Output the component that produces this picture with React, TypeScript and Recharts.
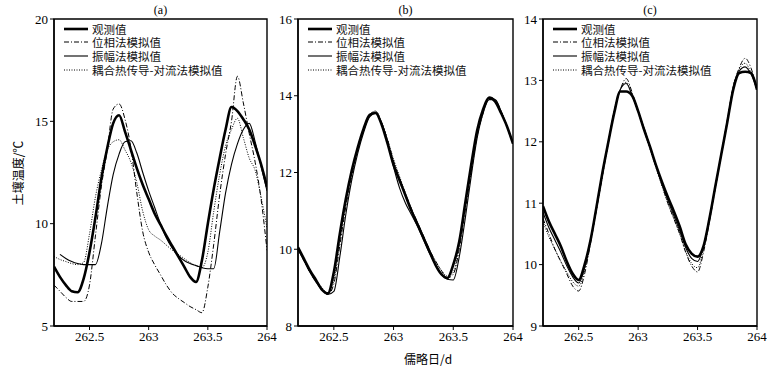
import { LineChart, Line, XAxis, YAxis, ReferenceArea } from "recharts";

// 儒略日 (day of year), sampled every 0.05 d
const days = [
  262.2, 262.25, 262.3, 262.35, 262.4, 262.45, 262.5, 262.55, 262.6, 262.65,
  262.7, 262.75, 262.8, 262.85, 262.9, 262.95, 263, 263.05, 263.1, 263.15,
  263.2, 263.25, 263.3, 263.35, 263.4, 263.45, 263.5, 263.55, 263.6, 263.65,
  263.7, 263.75, 263.8, 263.85, 263.9, 263.95, 264,
];

const xTicks = [262.5, 263, 263.5, 264];

// (a)
const obsA = [7.9, 7.4, 7.0, 6.7, 6.65, 7.3, 8.6, 10.3, 12.2, 13.7, 14.9, 15.3, 14.5, 13.6, 12.7, 11.9, 11.2, 10.5, 9.95, 9.4, 8.9, 8.4, 7.9, 7.4, 7.15, 8.2, 10.0, 11.7, 13.2, 14.6, 15.7, 15.5, 15.1, 14.6, 13.8, 12.9, 11.8];
const phaseA = [7.0, 6.7, 6.4, 6.2, 6.2, 6.2, 7.0, 9.4, 11.8, 13.6, 15.6, 15.85, 15.1, 13.7, 11.5, 9.6, 8.6, 8.0, 7.5, 7.0, 6.6, 6.35, 6.15, 5.95, 5.8, 5.65, 6.9, 9.0, 11.4, 13.4, 15.0, 17.2, 15.9, 14.4, 13.0, 11.2, 8.7];
const ampA = [null, 8.5, 8.3, 8.15, 8.05, 8.0, 8.0, 8.0, 9.0, 10.8, 12.4, 13.4, 14.0, 14.05, 13.45, 12.5, 11.6, 10.8, 10.0, 9.3, 8.8, 8.45, 8.2, 8.05, 7.95, 7.85, 7.8, 7.8, 9.6, 11.5, 12.9, 13.9, 14.6, 14.9, 14.0, 12.8, 11.6];
const coupledA = [8.4, 8.25, 8.15, 8.05, 8.0, 8.1, 9.5, 11.3, 12.6, 13.6, 14.0, 14.1, 13.6, 13.0, 12.0, 10.6, 9.7, 9.4, 9.2, 8.95, 8.7, 8.5, 8.3, 8.1, 7.95, 7.85, 8.6, 10.6, 12.4, 13.8, 14.6, 15.15, 14.2, 13.2, 12.6, 11.3, 9.8];
const yTicksA = [5, 10, 15, 20];

// (b)
const obsB = [10.05, 9.75, 9.45, 9.2, 8.95, 8.85, 9.4, 10.4, 11.3, 12.05, 12.65, 13.15, 13.5, 13.55, 13.25, 12.75, 12.2, 11.8, 11.4, 11.0, 10.65, 10.3, 9.95, 9.6, 9.35, 9.25, 9.6, 10.2, 11.2, 12.2, 13.1, 13.65, 13.95, 13.85, 13.55, 13.2, 12.75];
const phaseB = [10.0, 9.7, 9.4, 9.15, 8.95, 8.82, 9.1, 10.1, 11.1, 11.9, 12.6, 13.1, 13.5, 13.6, 13.3, 12.85, 12.3, 11.85, 11.45, 11.05, 10.7, 10.35, 10.0, 9.7, 9.45, 9.25, 9.35, 10.0, 11.0, 12.0, 12.95, 13.55, 13.95, 13.9, 13.6, 13.2, 12.75];
const ampB = [10.0, 9.7, 9.4, 9.15, 8.95, 8.82, 8.9, 9.8, 10.9, 11.8, 12.5, 13.05, 13.45, 13.55, 13.3, 12.8, 12.15, 11.6, 11.2, 10.9, 10.6, 10.25, 9.9, 9.6, 9.35, 9.22, 9.2, 9.8, 10.8, 11.9, 12.9, 13.55, 13.9, 13.9, 13.6, 13.2, 12.75];
const coupledB = [10.05, 9.75, 9.45, 9.2, 9.0, 8.85, 9.2, 10.2, 11.2, 12.0, 12.65, 13.15, 13.5, 13.6, 13.3, 12.85, 12.35, 11.9, 11.45, 11.05, 10.7, 10.35, 10.0, 9.7, 9.45, 9.3, 9.4, 10.1, 11.1, 12.1, 13.0, 13.6, 13.95, 13.9, 13.6, 13.2, 12.75];
const yTicksB = [8, 10, 12, 14, 16];

// (c)
const obsC = [10.95, 10.7, 10.5, 10.3, 10.05, 9.85, 9.75, 10.0, 10.4, 10.94, 11.5, 12.0, 12.48, 12.82, 12.82, 12.75, 12.5, 12.2, 11.92, 11.62, 11.35, 11.1, 10.87, 10.62, 10.33, 10.18, 10.13, 10.3, 10.75, 11.28, 11.8, 12.32, 12.85, 13.12, 13.14, 13.12, 12.85];
const phaseC = [10.75, 10.5, 10.25, 10.05, 9.85, 9.65, 9.57, 9.85, 10.35, 10.9, 11.45, 12.0, 12.5, 12.85, 13.03, 12.8, 12.5, 12.2, 11.9, 11.6, 11.3, 11.0, 10.75, 10.5, 10.2, 9.98, 9.88, 10.2, 10.7, 11.25, 11.8, 12.35, 12.9, 13.2, 13.36, 13.2, 12.85];
const ampC = [10.85, 10.6, 10.4, 10.2, 9.98, 9.8, 9.7, 9.95, 10.4, 10.92, 11.48, 12.0, 12.5, 12.85, 12.95, 12.75, 12.5, 12.22, 11.92, 11.62, 11.32, 11.05, 10.8, 10.55, 10.28, 10.1, 10.05, 10.3, 10.75, 11.28, 11.8, 12.32, 12.88, 13.15, 13.22, 13.1, 12.85];
const coupledC = [10.7, 10.45, 10.25, 10.05, 9.88, 9.72, 9.65, 9.9, 10.38, 10.9, 11.45, 11.98, 12.5, 12.85, 12.97, 12.78, 12.48, 12.18, 11.88, 11.58, 11.28, 11.0, 10.75, 10.5, 10.22, 10.02, 9.95, 10.25, 10.72, 11.26, 11.8, 12.33, 12.9, 13.18, 13.28, 13.12, 12.85];
const yTicksC = [9, 10, 11, 12, 13, 14];

const SERIES = [
  { key: "obs", name: "观测值", width: 2.6, dash: undefined },
  { key: "phase", name: "位相法模拟值", width: 1, dash: "5 2 1 2" },
  { key: "amp", name: "振幅法模拟值", width: 1.1, dash: undefined },
  { key: "coupled", name: "耦合热传导-对流法模拟值", width: 1, dash: "1 1.5" },
];

const SERIF = "'Liberation Serif', 'DejaVu Serif', serif";
const CJK = "'Noto Sans CJK SC', sans-serif";
const tickStyle = { fontSize: 13, fill: "#000", fontFamily: SERIF };

// legend drawn inside the top-left corner of each panel
function LegendBox({ left }: { left: number }) {
  return (
    <div style={{ position: "absolute", left, top: 22, fontFamily: CJK, fontSize: 11.5, color: "#111" }}>
      {SERIES.map((s) => (
        <div key={s.key} style={{ display: "flex", alignItems: "center", height: 13.6, overflow: "visible" }}>
          <svg width={24} height={6} style={{ marginRight: 4, flex: "none" }}>
            <line x1={0} y1={3} x2={24} y2={3} stroke="#000" strokeWidth={s.width} strokeDasharray={s.dash} />
          </svg>
          <div style={{ lineHeight: "12px", height: 12, whiteSpace: "nowrap" }}>{s.name}</div>
        </div>
      ))}
    </div>
  );
}

interface PanelProps {
  plotLeft: number;
  plotW: number;
  title: string;
  yTicks: number[];
  obs: (number | null)[];
  phase: (number | null)[];
  amp: (number | null)[];
  coupled: (number | null)[];
}

function Panel({ plotLeft, plotW, title, yTicks, obs, phase, amp, coupled }: PanelProps) {
  const data = days.map((d, i) => ({ day: d, obs: obs[i], phase: phase[i], amp: amp[i], coupled: coupled[i] }));
  const yMin = yTicks[0];
  const yMax = yTicks[yTicks.length - 1];
  return (
    <div style={{ position: "absolute", left: plotLeft - 40, top: 0 }}>
      <LineChart width={plotW + 50} height={370} data={data} margin={{ top: 19, right: 10, left: 10, bottom: 14 }}>
        <XAxis
          dataKey="day"
          type="number"
          domain={[262.2, 264]}
          ticks={xTicks}
          allowDataOverflow
          height={30}
          tick={tickStyle}
          tickSize={4}
          axisLine={{ stroke: "#000", strokeWidth: 1.4 }}
          tickLine={{ stroke: "#000" }}
        />
        <YAxis
          type="number"
          domain={[yMin, yMax]}
          ticks={yTicks}
          allowDataOverflow
          width={30}
          tick={tickStyle}
          tickSize={4}
          axisLine={{ stroke: "#000", strokeWidth: 1.4 }}
          tickLine={{ stroke: "#000" }}
        />
        <ReferenceArea x1={262.2} x2={264} y1={yMin} y2={yMax} fill="none" stroke="#000" strokeWidth={1.4} />
        {SERIES.map((s) => (
          <Line
            key={s.key}
            dataKey={s.key}
            name={s.name}
            type="monotone"
            stroke="#000"
            strokeWidth={s.width}
            strokeDasharray={s.dash}
            dot={false}
            isAnimationActive={false}
          />
        ))}
      </LineChart>
      <div
        style={{
          position: "absolute",
          left: 40,
          width: plotW,
          top: 3,
          textAlign: "center",
          fontFamily: SERIF,
          fontSize: 12,
          lineHeight: "14px",
        }}
      >
        {title}
      </div>
      <LegendBox left={50} />
    </div>
  );
}

export default function App() {
  return (
    <div style={{ position: "fixed", left: 0, top: 0, width: 775, height: 370, background: "#fff", overflow: "hidden" }}>
      <Panel plotLeft={54} plotW={213} title="(a)" yTicks={yTicksA} obs={obsA} phase={phaseA} amp={ampA} coupled={coupledA} />
      <Panel plotLeft={298} plotW={215} title="(b)" yTicks={yTicksB} obs={obsB} phase={phaseB} amp={ampB} coupled={coupledB} />
      <Panel plotLeft={543} plotW={214} title="(c)" yTicks={yTicksC} obs={obsC} phase={phaseC} amp={ampC} coupled={coupledC} />
      <div
        style={{
          position: "absolute",
          left: 17,
          top: 173,
          transform: "translate(-50%, -50%) rotate(-90deg)",
          whiteSpace: "nowrap",
          fontFamily: CJK,
          fontSize: 12,
        }}
      >
        土壤温度/℃
      </div>
      <div
        style={{
          position: "absolute",
          left: 428,
          top: 358,
          transform: "translate(-50%, -50%)",
          whiteSpace: "nowrap",
          fontFamily: CJK,
          fontSize: 12,
        }}
      >
        儒略日/d
      </div>
    </div>
  );
}
